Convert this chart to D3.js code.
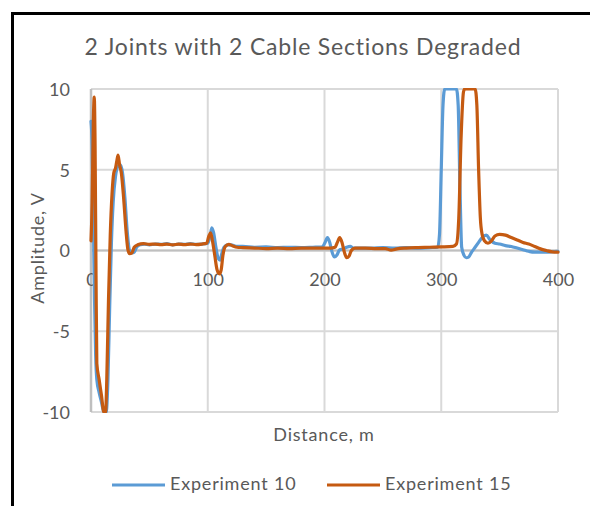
<!DOCTYPE html>
<html>
<head>
<meta charset="utf-8">
<script src="https://cdn.jsdelivr.net/npm/d3@7"></script>
<style>
  html, body { margin: 0; padding: 0; background: #fff; }
  svg { display: block; }
  text { font-family: Lato, "Open Sans", sans-serif; fill: #595959; }
</style>
</head>
<body>
<svg id="chart" width="590" height="506"></svg>
<script>
const chartTitle = "2 Joints with 2 Cable Sections Degraded";
const xAxisTitle = "Distance, m";
const yAxisTitle = "Amplitude, V";
const seriesNames = ["Experiment 10", "Experiment 15"];
const seriesColors = ["#5B9BD5", "#C55A11"];
const xTicks = [0, 100, 200, 300, 400];
const yTicks = [-10, -5, 0, 5, 10];

// Experiment 10: [distance m, amplitude V]
const exp10 = [
  [0, 8], [1, 6.5], [2, 2], [3, -3], [4, -6.5], [5, -8], [7, -8.8], [9, -9.4], [11, -10], [13, -10],
  [14.5, -8], [16, -3.5], [17.5, 0.5], [19, 3], [21, 4.6], [23, 5.2], [25, 5.3], [27, 4.8], [29, 3.3],
  [31, 1.2], [33, 0], [35, -0.15], [37, -0.1], [39, 0.2], [42, 0.35], [46, 0.4], [50, 0.35], [55, 0.4],
  [60, 0.38], [65, 0.42], [70, 0.35], [75, 0.4], [80, 0.38], [85, 0.42], [90, 0.38], [95, 0.4], [100, 0.45],
  [102, 0.9], [103.5, 1.4], [105, 1.1], [107, 0.2], [109, -0.5], [110.5, -0.6], [112, -0.2], [114, 0.2],
  [117, 0.35], [120, 0.35], [125, 0.25], [130, 0.25], [140, 0.2], [150, 0.22], [160, 0.18], [170, 0.2],
  [180, 0.18], [190, 0.2], [198, 0.22], [200.5, 0.5], [202.5, 0.8], [204.5, 0.5], [206.5, -0.1],
  [208.5, -0.4], [210.5, -0.3], [213, 0.05], [216, 0.1], [219, 0.2], [222, 0.25], [225, 0.15], [230, 0.15],
  [240, 0.15], [250, 0.18], [260, 0.15], [270, 0.18], [280, 0.15], [290, 0.18], [297, 0.2], [298.5, 1],
  [300, 5], [301.5, 9], [303, 10], [313, 10], [314.5, 9], [316, 4], [317.5, 0.2], [319.5, -0.3],
  [321.5, -0.45], [323.5, -0.4], [326, -0.1], [329, 0.2], [332, 0.5], [335, 0.8], [338.5, 0.95],
  [342, 0.65], [346, 0.45], [350, 0.4], [355, 0.3], [360, 0.25], [365, 0.15], [370, 0.05], [375, -0.05],
  [380, -0.1], [390, -0.1], [400, -0.05]
];

// Experiment 15: [distance m, amplitude V]
const exp15 = [
  [0, 0.6], [1, 3], [2, 8], [2.8, 9.5], [3.5, 6.5], [4.3, -1.5], [5, -7], [7, -8], [9, -9], [11, -10],
  [12.5, -10], [13.5, -8], [15, -3], [16.5, 1], [18, 3.5], [19.5, 4.8], [21, 5.1], [22, 5.5], [23.2, 5.9],
  [24.5, 5.3], [26, 4.8], [28, 3.2], [30, 1.2], [31.5, 0.1], [33, -0.2], [35, -0.15], [37, 0.2],
  [40, 0.35], [45, 0.42], [50, 0.38], [55, 0.4], [60, 0.36], [65, 0.4], [70, 0.35], [75, 0.4], [80, 0.36],
  [85, 0.4], [90, 0.37], [95, 0.4], [99, 0.45], [101, 0.9], [102.5, 1.1], [104, 0.6], [106, -0.3],
  [108, -1.2], [110, -1.45], [111.5, -1.2], [113, -0.3], [115, 0.25], [118, 0.38], [121, 0.3], [125, 0.2],
  [130, 0.18], [140, 0.15], [150, 0.12], [160, 0.15], [170, 0.12], [180, 0.15], [190, 0.15], [205, 0.15],
  [209, 0.2], [211, 0.5], [213, 0.8], [215, 0.5], [217, -0.1], [219, -0.45], [221, -0.35], [223, 0],
  [226, 0.15], [235, 0.15], [245, 0.12], [252, 0.12], [257, 0.02], [262, 0.1], [270, 0.15], [280, 0.18],
  [290, 0.2], [300, 0.22], [310, 0.25], [313, 0.4], [315, 2], [317, 7], [319, 9.8], [320, 10], [329, 10],
  [330.5, 9], [332, 5], [333.5, 2], [335, 1], [337, 0.6], [340, 0.45], [343, 0.6], [346, 0.9], [350, 1.0],
  [355, 0.95], [360, 0.8], [365, 0.65], [370, 0.5], [375, 0.4], [380, 0.25], [385, 0.1], [390, 0],
  [395, -0.08], [400, -0.1]
];

const seriesData = [exp10, exp15];

const svg = d3.select("#chart");
const W = 590, H = 506;
const plot = { left: 91, right: 558, top: 89, bottom: 412 };

// Outer frame (chart area border, clipped by window on right/bottom)
svg.append("path")
  .attr("d", `M12.5,${H + 5} L12.5,13.5 L${W + 5},13.5`)
  .attr("fill", "none").attr("stroke", "#000").attr("stroke-width", 3);

const x = d3.scaleLinear().domain([0, 400]).range([plot.left, plot.right]);
const y = d3.scaleLinear().domain([-10, 10]).range([plot.bottom, plot.top]);

// Gridlines
const grid = svg.append("g");
grid.selectAll("line.h").data(yTicks).join("line")
  .attr("x1", plot.left).attr("x2", plot.right)
  .attr("y1", d => y(d)).attr("y2", d => y(d))
  .attr("stroke", "#d9d9d9").attr("stroke-width", 2);
grid.selectAll("line.v").data(xTicks).join("line")
  .attr("x1", d => x(d)).attr("x2", d => x(d))
  .attr("y1", plot.top).attr("y2", plot.bottom)
  .attr("stroke", "#d9d9d9").attr("stroke-width", 2);
// vertical axis line (x = 0)
svg.append("line")
  .attr("x1", x(0)).attr("x2", x(0)).attr("y1", plot.top).attr("y2", plot.bottom)
  .attr("stroke", "#bfbfbf").attr("stroke-width", 2.5);
// horizontal axis line at y = 0
svg.append("line")
  .attr("x1", plot.left).attr("x2", plot.right).attr("y1", y(0)).attr("y2", y(0))
  .attr("stroke", "#bfbfbf").attr("stroke-width", 2);

const fmt = d => String(d);

// Y axis labels
const yAxis = d3.axisLeft(y).tickValues(yTicks).tickSize(0).tickPadding(0).tickFormat(fmt);
const yg = svg.append("g").attr("transform", `translate(70,0)`).call(yAxis);
yg.select(".domain").remove();
yg.selectAll("text").style("font-size", "18px").attr("fill", "#595959")
  .style("font-family", "Lato, sans-serif").attr("dy", "0.35em");

// X axis labels (crossing at y = 0)
const xAxis = d3.axisBottom(x).tickValues(xTicks).tickSize(0).tickPadding(0).tickFormat(fmt);
const xg = svg.append("g").attr("transform", `translate(0,${y(0) + 29})`).call(xAxis);
xg.select(".domain").remove();
xg.selectAll("text").style("font-size", "18px").attr("fill", "#595959")
  .style("font-family", "Lato, sans-serif").attr("dy", "0.35em");

// Clip
svg.append("clipPath").attr("id", "clip").append("rect")
  .attr("x", plot.left - 3).attr("y", plot.top - 1)
  .attr("width", plot.right - plot.left + 6).attr("height", plot.bottom - plot.top + 2);

const line = d3.line().x(d => x(d[0])).y(d => y(d[1])).curve(d3.curveMonotoneX);
svg.append("g").attr("clip-path", "url(#clip)")
  .selectAll("path").data(seriesData).join("path")
  .attr("d", d => line(d))
  .attr("fill", "none")
  .attr("stroke", (d, i) => seriesColors[i])
  .attr("stroke-width", 3.2)
  .attr("stroke-linejoin", "round").attr("stroke-linecap", "round");

// Title
svg.append("text").attr("x", 303).attr("y", 47).attr("text-anchor", "middle")
  .attr("dy", "0.35em").style("font-size", "23px").style("letter-spacing", "0.8px").text(chartTitle);

// Axis titles
svg.append("text").attr("x", 324).attr("y", 435).attr("text-anchor", "middle")
  .attr("dy", "0.35em").style("font-size", "18px").style("letter-spacing", "0.8px").text(xAxisTitle);
svg.append("text").attr("transform", "translate(38,248) rotate(-90)").attr("text-anchor", "middle")
  .attr("dy", "0.35em").style("font-size", "18px").style("letter-spacing", "0.8px").text(yAxisTitle);

// Legend
const legendItems = [
  { x1: 112, x2: 165, tx: 170 },
  { x1: 327, x2: 380, tx: 385 }
];
const lg = svg.append("g");
legendItems.forEach((it, i) => {
  lg.append("line").attr("x1", it.x1).attr("x2", it.x2).attr("y1", 485).attr("y2", 485)
    .attr("stroke", seriesColors[i]).attr("stroke-width", 3.2);
  lg.append("text").attr("x", it.tx).attr("y", 484).attr("dy", "0.35em")
    .style("font-size", "18px").style("letter-spacing", "0.8px").text(seriesNames[i]);
});
</script>
</body>
</html>
